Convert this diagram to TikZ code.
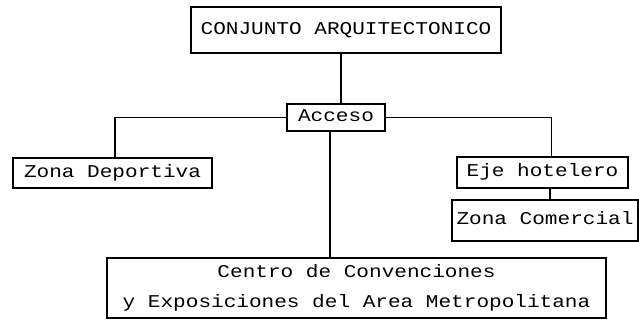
\documentclass[tikz,border=0pt]{standalone}
\usepackage{fontspec}
\newfontfamily\tw[FakeStretch=1.17]{Liberation Mono}
\begin{document}
\begin{tikzpicture}[x=1pt,y=-1pt,
  box/.style={draw=black,line width=1.3pt,inner sep=0pt,outer sep=0pt,
    font=\tw\fontsize{18}{20}\selectfont,text height=12pt,text depth=3pt},
  link/.style={draw=black,line width=1.3pt}]
\useasboundingbox (0,0) rectangle (639,320);
\node[box,minimum width=310,minimum height=46] (top) at (346,30) {CONJUNTO ARQUITECTONICO};
\node[box,minimum width=98,minimum height=27] (acc) at (336,117.5) {Acceso};
\node[box,minimum width=199,minimum height=30] (zd) at (112.5,173) {Zona Deportiva};
\node[box,minimum width=171,minimum height=31] (eje) at (542.5,172.5) {Eje hotelero};
\node[box,minimum width=186,minimum height=41] (zc) at (545,220.5) {Zona Comercial};
\node[box,minimum width=499,minimum height=60,text height=,text depth=,align=center,
  font=\tw\fontsize{18}{30}\selectfont] (cen) at (356.5,288)
  {Centro de Convenciones\\y Exposiciones del Area Metropolitana};
\draw[link] ([xshift=-5pt]top.south) -- ([xshift=5pt]acc.north);
\draw[link] (acc.west) -| ([xshift=2.5pt]zd.north);
\draw[link] (acc.east) -| ([xshift=9pt]eje.north);
\draw[link] ([xshift=7.5pt]eje.south) -- ([xshift=5pt]zc.north);
\draw[link] ([xshift=-6pt]acc.south) -- ([xshift=-26.5pt]cen.north);
\end{tikzpicture}
\end{document}
